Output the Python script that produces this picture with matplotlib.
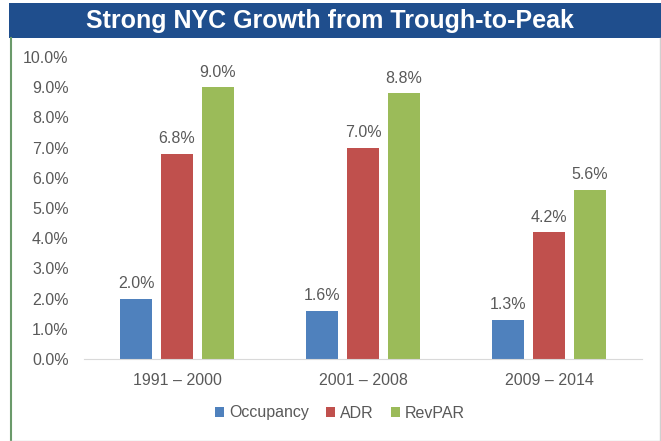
import matplotlib
matplotlib.use("Agg")
import matplotlib.pyplot as plt
from matplotlib.patches import Rectangle
from matplotlib.lines import Line2D
import numpy as np

plt.rcParams['font.family'] = ['Liberation Sans', 'DejaVu Sans']

periods = ["1991 – 2000", "2001 – 2008", "2009 – 2014"]
series_names = ["Occupancy", "ADR", "RevPAR"]
occupancy = [2.0, 1.6, 1.3]
adr = [6.8, 7.0, 4.2]
revpar = [9.0, 8.8, 5.6]
colors = ["#4f81bd", "#c0504d", "#9bbb59"]
yticks = [0, 1, 2, 3, 4, 5, 6, 7, 8, 9, 10]

W, H = 661, 441
fig = plt.figure(figsize=(W / 100, H / 100), dpi=100)
fig.patch.set_facecolor("white")

# title bar
fig.add_artist(Rectangle((9 / W, 1 - 38 / H), 1 - 9 / W, 35 / H, transform=fig.transFigure,
                         facecolor="#1f4e8d", edgecolor="none"))
fig.text(330 / W, 1 - 21 / H, "Strong NYC Growth from Trough-to-Peak",
         color="white", fontsize=18, fontweight="bold", ha="center", va="center")
# borders
fig.add_artist(Line2D([10.5 / W, 10.5 / W], [0, 1 - 38 / H], transform=fig.transFigure,
                      color="#6a9a6a", lw=1.5))
fig.add_artist(Line2D([10 / W, 1], [0.5 / H, 0.5 / H], transform=fig.transFigure,
                      color="#d0d0d0", lw=1))
fig.add_artist(Line2D([659.5 / W, 659.5 / W], [0, 1 - 38 / H], transform=fig.transFigure,
                      color="#d0d0d0", lw=1))

left, right = 84, 642
top, bottom = 57, 359
ax = fig.add_axes([left / W, 1 - bottom / H, (right - left) / W, (bottom - top) / H])

fs = 11.5
x = np.arange(len(periods))
width = 0.172
offset = 0.22
all_series = [occupancy, adr, revpar]
for i, (vals, c, name) in enumerate(zip(all_series, colors, series_names)):
    xs = x + (i - 1) * offset
    ax.bar(xs, vals, width=width, color=c, label=name, zorder=2)
    for xv, v in zip(xs, vals):
        ax.text(xv, v + 0.25, f"{v:.1f}%", ha="center", va="bottom",
                fontsize=fs, color="#595959")

ax.set_xlim(-0.5, 2.5)
ax.set_ylim(0, 10)
ax.set_yticks(yticks)
ax.set_yticklabels([f"{t:.1f}%" for t in yticks])
ax.set_xticks(x)
ax.set_xticklabels(periods)
for s in ["top", "right", "left"]:
    ax.spines[s].set_visible(False)
ax.spines["bottom"].set_color("#d9d9d9")
ax.tick_params(axis="both", length=0, colors="#595959", labelsize=fs)
ax.tick_params(axis="x", pad=10)
ax.tick_params(axis="y", pad=11)

leg = fig.legend(loc="center", bbox_to_anchor=(340 / W, 1 - 413 / H), ncol=3, frameon=False,
                 fontsize=fs, handlelength=0.55, handleheight=0.55, handletextpad=0.3,
                 columnspacing=1.1)
for t in leg.get_texts():
    t.set_color("#595959")

fig.savefig("out.png", dpi=100)
